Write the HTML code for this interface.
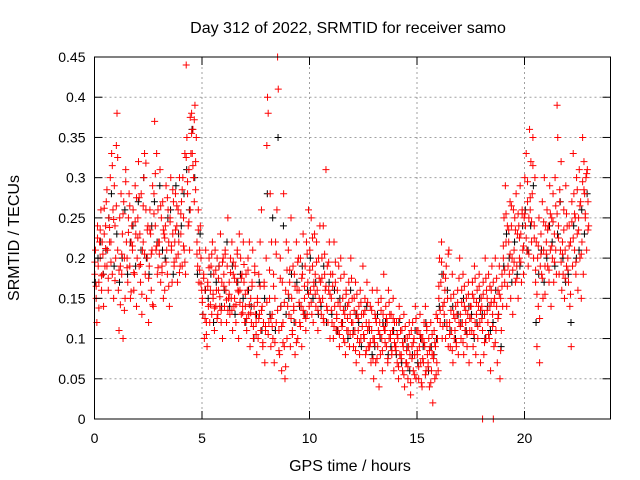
<!DOCTYPE html>
<html><head><meta charset="utf-8"><style>
html,body{margin:0;padding:0;background:#fff;}
svg{display:block;font-family:"Liberation Sans",Arial,sans-serif;}
</style></head><body>
<svg id="chart" width="640" height="480" viewBox="0 0 640 480" xmlns="http://www.w3.org/2000/svg">
<rect width="640" height="480" fill="#fff"/>
<text x="348" y="33" text-anchor="middle" font-size="16">Day 312 of 2022, SRMTID for receiver samo</text>
<text x="19" y="238" text-anchor="middle" font-size="16" transform="rotate(-90 19 238)">SRMTID / TECUs</text>
<text x="350" y="471" text-anchor="middle" font-size="16">GPS time / hours</text>
<g id="grid"></g>
<g id="black"></g>
<g id="red"></g>
<g id="axes"></g>
</svg>
<script>
const binStart = [0,0.25,0.5,0.75,1,1.25,1.5,1.75,2,2.25,2.5,2.75,3,3.25,3.5,3.75,4,4.25,4.5,4.75,5,5.25,5.5,5.75,6,6.25,6.5,6.75,7,7.25,7.5,7.75,8,8.25,8.5,8.75,9,9.25,9.5,9.75,10,10.25,10.5,10.75,11,11.25,11.5,11.75,12,12.25,12.5,12.75,13,13.25,13.5,13.75,14,14.25,14.5,14.75,15,15.25,15.5,15.75,16,16.25,16.5,16.75,17,17.25,17.5,17.75,18,18.25,18.5,18.75,19,19.25,19.5,19.75,20,20.25,20.5,20.75,21,21.25,21.5,21.75,22,22.25,22.5,22.75];
const redCents = [
[18,21,15,12,24,19,17,22],[20,26,16,22,18,14,23,19],[24,27,19,21,16,25,22,30],[22,33,18,26,15,29,24,20],
[34,38,21,16,11,25,19,28],[18,23,10,27,20,15,31,22],[20,17,25,28,19,15,22,24],[21,26,16,18,29,23,14,20],
[25,32,19,23,17,28,13,21],[22,30,33,18,26,15,20,24],[12,19,26,23,16,21,29,14],[28,37,24,21,33,18,26,22],
[22,31,17,25,19,27,15,23],[16,24,29,21,18,26,22,14],[25,30,21,17,23,27,19,22],[28,20,24,17,26,22,30,19],
[23,27,19,30,25,21,33,18],[44,35,28,24,31,21,26,33],[38,33,36,30,27,39,32,35],[22,19,26,17,21,24,20,16],
[15,13,18,10,16,21,12,9],[17,14,20,12,16,19,13,22],[15,18,11,21,14,16,20,13],[16,19,14,23,12,17,10,20],
[18,14,21,16,12,19,25,15],[17,13,20,15,22,11,18,14],[15,19,12,17,21,16,10,23],[16,20,13,18,14,22,17,12],
[14,18,11,16,20,13,22,9],[15,12,17,21,10,14,19,13],[12,8,15,10,18,13,22,11],[26,14,9,12,17,7,11,20],
[34,40,38,12,15,28,9,22],[13,10,18,7,15,22,12,26],[45,41,11,8,20,14,6,17],[12,28,9,5,16,22,10,14],
[21,13,17,9,25,15,11,19],[14,18,8,12,22,16,10,20],[16,12,20,14,9,18,23,13],[15,19,11,22,13,17,26,14],
[21,16,25,13,19,12,17,23],[18,14,22,16,11,20,15,24],[17,13,20,15,24,12,18,16],[31,14,19,12,16,22,10,18],
[15,12,18,10,22,14,17,11],[13,16,11,19,9,14,20,12],[12,15,10,18,13,8,16,11],[14,11,17,9,13,20,12,15],
[12,9,15,11,17,7,13,10],[11,14,8,16,10,13,6,19],[13,10,15,8,12,17,11,9],[12,9,14,7,11,16,10,5],
[10,13,7,12,16,9,11,4],[12,8,15,10,6,13,18,11],[11,14,9,12,7,16,10,13],[10,13,8,11,15,6,12,9],
[9,12,7,10,5,14,8,11],[8,11,6,9,13,4,10,7],[7,10,5,9,12,8,3,11],[9,12,6,10,8,14,5,11],
[8,11,5,9,13,7,10,4],[10,7,12,9,14,6,11,8],[7,10,4,9,12,6,8,2],[8,11,5,9,13,7,10,6],
[15,20,12,17,22,10,14,18],[13,16,10,19,12,15,9,21],[12,9,15,11,18,7,13,10],[11,14,9,13,16,8,12,20],
[13,10,16,12,18,8,14,11],[12,15,9,13,17,7,11,14],[14,11,17,9,15,19,12,8],[13,16,10,14,18,12,7,15],
[14,11,17,8,13,20,10,16],[15,12,18,10,14,6,16,19],[13,17,9,15,20,11,14,7],[16,13,19,5,15,11,18,14],
[20,25,17,29,22,14,24,19],[22,18,27,15,24,20,13,26],[21,25,17,28,19,23,15,24],[20,29,23,17,26,21,18,25],
[30,24,33,21,27,19,25,36],[26,32,22,28,35,20,24,30],[17,22,9,20,14,25,7,19],[23,18,27,15,21,30,19,24],
[22,26,19,24,17,29,21,14],[25,20,28,17,23,30,21,18],[39,35,24,18,27,21,32,16],[22,18,26,15,21,29,19,24],
[20,17,24,14,22,9,27,19],[33,28,21,25,18,30,23,16],[25,31,20,27,15,22,35,18],[32,28,25,30,21,31,27,24]];
const redExtraMilli = [
[195,165,225,138],[235,178,205,262],[212,285,175,238],[195,315,248,172],
[265,325,185,142],[205,255,135,295],[188,232,265,158],[215,182,245,275],
[225,275,192,155],[265,205,318,235],[175,235,205,142],[255,305,215,188],
[205,265,182,235],[225,195,275,165],[245,215,285,195],[235,265,205,182],
[255,285,215,195],[325,295,245,375],[355,315,372,285],[205,235,185,168],
[145,175,125,105],[165,188,142,205],[155,138,185,125],[175,152,135,195],
[165,205,148,135],[155,182,135,195],[175,142,205,158],[145,175,132,192],
[155,125,185,142],[132,165,115,182],[105,145,125,165],[135,95,165,115],
[145,105,185,125],[115,165,95,205],[135,85,175,115],[95,145,65,185],
[155,185,125,105],[135,165,95,195],[145,115,175,135],[165,125,205,155],
[185,145,225,165],[155,195,135,175],[145,175,125,205],[165,135,195,155],
[135,165,115,195],[125,145,105,175],[115,135,95,155],[125,145,105,175],
[105,135,85,155],[125,95,145,115],[105,135,85,145],[115,95,135,75],
[95,125,75,145],[105,135,85,115],[95,125,75,145],[105,85,125,95],
[85,105,65,125],[75,95,55,115],[85,65,105,45],[75,95,55,125],
[85,65,105,45],[75,95,55,115],[65,85,45,105],[75,95,55,125],
[165,135,195,115],[145,175,115,205],[105,135,85,155],[125,95,145,175],
[115,145,95,165],[135,105,155,125],[125,155,105,175],[145,115,165,135],
[125,155,95,175],[135,105,165,145],[115,145,95,175],[125,155,85,165],
[215,185,255,165],[235,205,265,185],[195,235,175,255],[225,195,255,215],
[255,225,295,205],[275,245,315,225],[185,155,215,125],[205,175,245,155],
[205,235,185,255],[215,245,195,265],[255,225,285,195],[205,235,175,255],
[185,215,155,245],[225,255,195,285],[235,265,205,295],[285,255,305,235]];
const blackCents = [
[17,20],[22,18],[21,25],[28,19],[23,17],[20,26],[18,22],[24,19],[27,21],[30,20],[18,24],[27,22],
[29,21],[20,25],[26,18],[29,23],[24,28],[31,26],[36,30],[18,23],[13,16],[15,18],[12,17],[19,14],
[16,22],[14,19],[13,17],[18,15],[12,16],[14,10],[13,17],[11,15],[28,13],[25,11],[35,14],[24,13],
[15,18],[12,17],[14,19],[13,16],[20,15],[17,13],[14,19],[12,17],[13,16],[11,15],[12,14],[10,16],
[11,13],[12,9],[10,14],[11,8],[9,13],[10,12],[12,8],[9,11],[8,12],[7,10],[9,6],[8,11],
[7,10],[9,12],[6,9],[8,10],[14,18],[12,16],[11,14],[10,13],[12,15],[11,14],[13,10],[12,15],
[13,10],[14,11],[12,16],[13,9],[19,23],[20,17],[22,18],[19,24],[26,21],[24,29],[12,18],[21,17],
[20,24],[22,19],[23,27],[20,17],[18,12],[24,20],[21,26],[23,28]];
const zeroTimes = [18.05, 18.55];
const xTicks = [0,5,10,15,20];
const yTicks = [0,0.05,0.1,0.15,0.2,0.25,0.3,0.35,0.4,0.45];
const yTickLabels = ["0","0.05","0.1","0.15","0.2","0.25","0.3","0.35","0.4","0.45"];
const binWidth = 0.25;

const NS = "http://www.w3.org/2000/svg";
const L = 94.5, R = 610.5, T = 57, B = 419;
const xs = t => L + t / 24 * (R - L);
const ys = v => B - v / 0.45 * (B - T);
function mk(tag, attrs, parent) {
  const e = document.createElementNS(NS, tag);
  for (const k in attrs) e.setAttribute(k, attrs[k]);
  parent.appendChild(e); return e;
}
const grid = document.getElementById('grid'), axes = document.getElementById('axes');
yTicks.forEach((v, i) => {
  const y = ys(v);
  if (i > 0 && i < yTicks.length - 1) {
    const g = mk('line', {x1:L, x2:R, y1:y, y2:y, stroke:'#a0a0a0', 'stroke-dasharray':'2,3', 'stroke-width':1}, grid);
    
    
  }
  const t = mk('line', {x1:L, x2:L+8, y1:y, y2:y, stroke:'#000'}, axes);
  
  
  const t2 = mk('line', {x1:R-8, x2:R, y1:y, y2:y, stroke:'#000'}, axes);
  
  
  const lb = mk('text', {x:L-9, y:y+5, 'text-anchor':'end', 'font-size':14}, axes);
  lb.textContent = yTickLabels[i];
  
  
});
xTicks.forEach((v, i) => {
  const x = xs(v);
  if (i > 0) {
    const g = mk('line', {x1:x, x2:x, y1:T, y2:B, stroke:'#a0a0a0', 'stroke-dasharray':'2,3', 'stroke-width':1}, grid);
    
    
  }
  const t = mk('line', {x1:x, x2:x, y1:B, y2:B-8, stroke:'#000'}, axes);
  
  
  const t2 = mk('line', {x1:x, x2:x, y1:T, y2:T+8, stroke:'#000'}, axes);
  
  
  const lb = mk('text', {x:x, y:B+24, 'text-anchor':'middle', 'font-size':14}, axes);
  lb.textContent = String(v);
  
  
});
const frame = mk('rect', {x:L, y:T, width:R-L, height:B-T, fill:'none', stroke:'#000', 'stroke-width':1}, axes);



function plus(parent, t, v, color, name) {
  const x = xs(t), y = ys(v);
  const p = mk('path', {d:`M${x-3.5},${y}h7M${x},${y-3.5}v7`, stroke:color, 'stroke-width':1, fill:'none'}, parent);
  
  
}
const blk = document.getElementById('black'), red = document.getElementById('red');
blackCents.forEach((vals, b) => vals.forEach((c, k) => {
  plus(blk, binStart[b] + (k + 0.3) * binWidth / vals.length, c / 100, '#000', 'black-point');
}));
redCents.forEach((vals, b) => vals.forEach((c, k) => {
  plus(red, binStart[b] + (k + 0.5) * binWidth / vals.length, c / 100, '#ff0000', 'red-point');
}));
redExtraMilli.forEach((vals, b) => vals.forEach((c, k) => {
  plus(red, binStart[b] + (k + 0.25) * binWidth / vals.length, c / 1000, '#ff0000', 'red-point');
}));
zeroTimes.forEach(t => plus(red, t, 0, '#ff0000', 'red-zero-point'));
</script>
</body></html>
